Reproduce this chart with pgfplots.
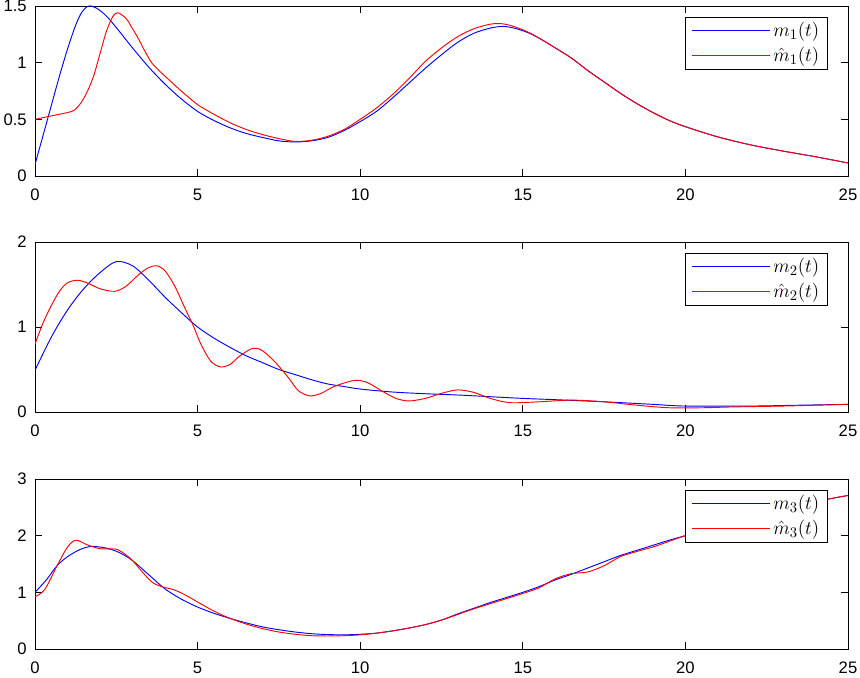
\documentclass[border=0pt]{standalone}
\usepackage{fontspec}
\setmainfont{Liberation Sans}
\usepackage{pgfplots}
\pgfplotsset{compat=1.18}
\definecolor{mblue}{RGB}{0,0,255}
\definecolor{mred}{RGB}{255,0,0}
\pgfplotsset{
  every axis/.style={
    scale only axis, width=609.75pt, height=127.5pt,
    xmin=0, xmax=25, xtick={0,5,10,15,20,25},
    tick align=inside, major tick length=5pt,
    axis line style={line width=0.6pt}, every tick/.style={line width=0.6pt, black},
    /pgf/number format/assume math mode=true,
    tick label style={font=\fontsize{12.5}{14}\selectfont, inner sep=0pt},
    xticklabel style={yshift=-9.5pt},
    yticklabel style={xshift=-6pt},
    legend cell align=left,
    legend image code/.code={\path (-2pt,0pt) -- (57pt,0pt);\draw[#1, line width=0.8pt] (0pt,0pt) -- (55pt,0pt);},
    legend style={at={(0.975,0.937)}, anchor=north east, draw=black, line width=0.6pt,
      font=\fontsize{15}{17}\selectfont, inner xsep=4pt, inner ysep=2.5pt,
      nodes={inner xsep=2pt, inner ysep=1.5pt}, row sep=3.5pt},
  },
}
\begin{document}
\begin{tikzpicture}
\begin{axis}[at={(0pt,0pt)}, anchor=south west, ymin=0, ymax=1.5, ytick={0,0.5,1,1.5}]
\addplot[draw=mblue, line width=0.7pt, smooth] coordinates {(0,0.10)(0.25,0.36)(0.5,0.62)(0.75,0.88)(1.0,1.12)(1.25,1.33)(1.45,1.45)(1.65,1.50)(1.9,1.48)(2.2,1.41)(2.5,1.31)(3.0,1.13)(3.5,0.96)(4.0,0.81)(4.5,0.68)(5.0,0.57)(5.5,0.49)(6.0,0.425)(6.5,0.375)(7.0,0.34)(7.5,0.31)(8.0,0.30)(8.5,0.31)(9.0,0.34)(9.5,0.40)(10.0,0.48)(10.5,0.57)(11.0,0.69)(11.5,0.82)(12.0,0.95)(12.5,1.07)(13.0,1.18)(13.5,1.26)(14.0,1.305)(14.4,1.32)(14.8,1.30)(15.2,1.26)(15.6,1.20)(16.0,1.13)(16.5,1.04)(17.0,0.93)(17.5,0.83)(18.0,0.73)(18.5,0.64)(19.0,0.56)(19.5,0.49)(20.0,0.435)(21.0,0.345)(22.0,0.275)(23.0,0.22)(24.0,0.17)(25.0,0.115)};
\addlegendentry{$m_1(t)$}
\addplot[draw=mred, line width=0.7pt, smooth] coordinates {(0,0.50)(0.5,0.53)(1.0,0.56)(1.2,0.58)(1.4,0.64)(1.6,0.74)(1.8,0.88)(2.0,1.08)(2.2,1.28)(2.4,1.41)(2.55,1.44)(2.8,1.39)(3.0,1.30)(3.2,1.20)(3.4,1.09)(3.6,0.995)(3.8,0.935)(4.0,0.88)(4.5,0.75)(5.0,0.63)(5.5,0.545)(6.0,0.47)(6.5,0.41)(7.0,0.365)(7.5,0.33)(8.0,0.305)(8.5,0.315)(9.0,0.35)(9.5,0.41)(10.0,0.50)(10.5,0.60)(11.0,0.72)(11.5,0.86)(12.0,1.01)(12.5,1.13)(13.0,1.23)(13.5,1.30)(14.0,1.34)(14.3,1.345)(14.6,1.33)(15.0,1.29)(15.3,1.25)(15.6,1.20)(16.0,1.13)(16.5,1.04)(17.0,0.93)(17.5,0.83)(18.0,0.73)(18.5,0.64)(19.0,0.56)(19.5,0.49)(20.0,0.435)(21.0,0.345)(22.0,0.275)(23.0,0.22)(24.0,0.17)(25.0,0.115)};
\addlegendentry{$\hat{m}_1(t)$}
\end{axis}
\begin{axis}[at={(0pt,-177pt)}, anchor=south west, ymin=0, ymax=2, ytick={0,1,2}]
\addplot[draw=mblue, line width=0.7pt, smooth] coordinates {(0,0.49)(0.5,0.88)(1.0,1.20)(1.5,1.45)(2.0,1.64)(2.5,1.77)(3.0,1.72)(3.5,1.55)(4.0,1.35)(4.5,1.17)(5.0,1.00)(5.5,0.87)(6.0,0.76)(6.5,0.66)(7.0,0.58)(7.5,0.50)(8.0,0.44)(8.5,0.38)(9.0,0.33)(9.5,0.30)(10.0,0.27)(11.0,0.235)(12.0,0.215)(13.0,0.20)(14.0,0.18)(15.0,0.16)(16.0,0.145)(17.5,0.12)(19.0,0.09)(20.0,0.07)(22.0,0.07)(23.5,0.08)(25.0,0.09)};
\addlegendentry{$m_2(t)$}
\addplot[draw=mred, line width=0.7pt, smooth] coordinates {(0,0.80)(0.25,1.05)(0.5,1.25)(0.75,1.42)(1.0,1.52)(1.3,1.55)(1.6,1.52)(2.0,1.45)(2.45,1.42)(2.8,1.48)(3.2,1.62)(3.5,1.70)(3.75,1.72)(4.0,1.66)(4.3,1.48)(4.6,1.23)(4.85,1.03)(5.1,0.80)(5.4,0.60)(5.7,0.53)(6.0,0.56)(6.3,0.66)(6.7,0.75)(7.0,0.72)(7.4,0.58)(7.8,0.40)(8.1,0.25)(8.45,0.19)(8.8,0.22)(9.2,0.30)(9.8,0.37)(10.2,0.35)(10.7,0.24)(11.1,0.16)(11.5,0.13)(12.0,0.16)(12.5,0.22)(13.0,0.26)(13.5,0.23)(14.0,0.16)(14.6,0.11)(15.5,0.12)(16.5,0.14)(17.5,0.12)(18.5,0.08)(19.5,0.05)(20.5,0.05)(21.5,0.06)(23.0,0.07)(25.0,0.09)};
\addlegendentry{$\hat{m}_2(t)$}
\end{axis}
\begin{axis}[at={(0pt,-354.75pt)}, anchor=south west, ymin=0, ymax=3, ytick={0,1,2,3}]
\addplot[draw=mblue, line width=0.7pt, smooth] coordinates {(0,1.00)(0.35,1.22)(0.68,1.47)(1.0,1.63)(1.4,1.76)(1.75,1.81)(2.2,1.78)(2.6,1.70)(3.0,1.56)(3.5,1.31)(4.0,1.06)(4.5,0.88)(5.0,0.74)(5.5,0.63)(6.0,0.54)(6.5,0.46)(7.0,0.39)(7.5,0.34)(8.0,0.30)(8.5,0.27)(9.0,0.255)(9.5,0.25)(10.0,0.26)(10.5,0.28)(11.0,0.32)(11.5,0.37)(12.0,0.43)(12.5,0.51)(13.0,0.62)(13.5,0.72)(14.0,0.82)(14.5,0.91)(15.0,1.00)(15.5,1.10)(16.0,1.22)(16.5,1.32)(17.0,1.43)(17.5,1.54)(18.0,1.65)(18.5,1.74)(19.0,1.83)(19.5,1.92)(20.0,2.00)(21.0,2.16)(22.0,2.30)(23.0,2.45)(24.0,2.60)(25.0,2.71)};
\addlegendentry{$m_3(t)$}
\addplot[draw=mred, line width=0.7pt, smooth] coordinates {(0,0.92)(0.3,1.05)(0.68,1.47)(1.0,1.80)(1.26,1.92)(1.6,1.84)(2.0,1.77)(2.5,1.76)(2.8,1.66)(3.0,1.56)(3.3,1.36)(3.6,1.18)(3.9,1.10)(4.3,1.04)(4.7,0.93)(5.0,0.83)(5.5,0.67)(6.0,0.54)(6.5,0.44)(7.0,0.36)(7.5,0.30)(8.0,0.26)(8.5,0.235)(9.0,0.23)(9.5,0.235)(10.0,0.25)(10.5,0.28)(11.0,0.32)(11.5,0.37)(12.0,0.43)(12.5,0.51)(13.0,0.61)(13.5,0.71)(14.0,0.80)(14.5,0.89)(15.0,0.98)(15.5,1.08)(16.0,1.24)(16.5,1.33)(17.0,1.36)(17.5,1.47)(18.0,1.63)(18.5,1.72)(19.0,1.80)(19.5,1.90)(20.0,2.00)(21.0,2.16)(22.0,2.30)(23.0,2.45)(24.0,2.60)(25.0,2.71)};
\addlegendentry{$\hat{m}_3(t)$}
\end{axis}
\pgfresetboundingbox
\path[use as bounding box] (-26.25pt,132pt) rectangle (618.75pt,-376.5pt);
\end{tikzpicture}
\end{document}
